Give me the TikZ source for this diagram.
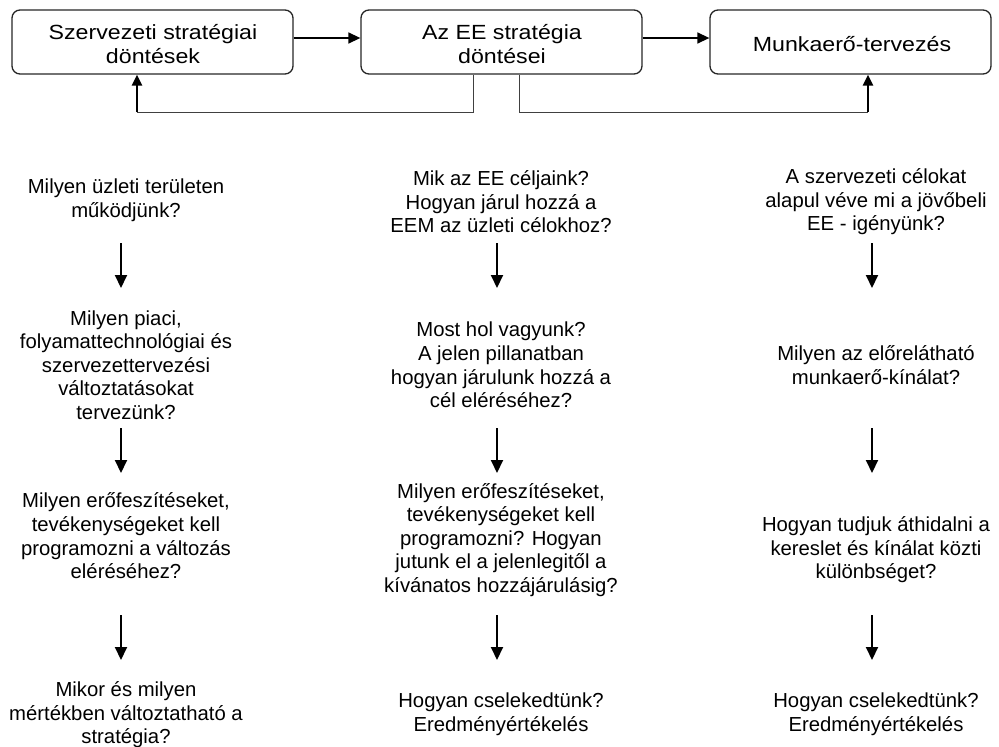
\documentclass[tikz,border=0pt]{standalone}
\usepackage{fontspec}
\setmainfont{Liberation Sans}
\newfontfamily\boxfont[FakeStretch=1.13]{Liberation Sans}
\usetikzlibrary{arrows.meta}
\begin{document}
\begin{tikzpicture}[x=1pt,y=-1pt,
  decision/.style={draw=black!85, line width=1.3pt, rounded corners=8pt,
    minimum width=281pt, minimum height=64pt, inner sep=0pt, align=center,
    font=\boxfont\fontsize{20.5}{23.5}\selectfont},
  question/.style={align=center, inner sep=0pt, font=\fontsize{20.3}{23.6}\selectfont},
  flow/.style={line width=2pt, -{Triangle[length=13pt,width=12pt]}},
  link/.style={line width=1.5pt, -{Triangle[length=12pt,width=11pt]}},
  feedback/.style={line width=1pt, draw=black!75},
  feedup/.style={line width=2.4pt, -{Triangle[length=11pt,width=10pt]}}]

\useasboundingbox (0,0) rectangle (999,747);

% decision boxes
\node[decision] (org)  at (152.5,42) {};
\node[decision] (hr)   at (501.5,42) {};
\node[decision] (plan) at (850.5,42) {};
\node[font=\boxfont\fontsize{20.5}{23.5}\selectfont, align=center, inner sep=0pt]
  (orgtxt) at (153,44) {Szervezeti stratégiai\\döntések};
\node[font=\boxfont\fontsize{20.5}{23.5}\selectfont, align=center, inner sep=0pt]
  (hrtxt) at (502,44) {Az EE stratégia\\döntései};
\node[font=\boxfont\fontsize{20.5}{23.5}\selectfont, align=center, inner sep=0pt]
  (plantxt) at (852,44) {Munkaerő-tervezés};

\draw[link] ([yshift=4pt]org.east) -- ([yshift=4pt]hr.west);
\draw[link] ([yshift=4pt]hr.east) -- ([yshift=4pt]plan.west);

% feedback from the HR strategy back to the other two boxes
\coordinate (fbL) at (137,112);
\coordinate (fbR) at (868,112);
\draw[feedback] (hr.south -| 473,0) |- (fbL);
\draw[feedback] (hr.south -| 519,0) |- (fbR);
\draw[feedup] (fbL) -- (org.south -| fbL);
\draw[feedup] (fbR) -- (plan.south -| fbR);

% column 1: organisational strategy
\node[question] (a1) at (126,200) {Milyen üzleti területen\\működjünk?};
\node[question] (a2) at (126,365) {Milyen piaci,\\folyamattechnológiai és\\szervezettervezési\\változtatásokat\\tervezünk?};
\node[question] (a3) at (126,536) {Milyen erőfeszítéseket,\\tevékenységeket kell\\programozni a változás\\eléréséhez?};
\node[question] (a4) at (126,715) {Mikor és milyen\\mértékben változtatható a\\stratégia?};

% column 2: HR strategy
\node[question] (b1) at (501,202) {Mik az EE céljaink?\\Hogyan járul hozzá a\\EEM az üzleti célokhoz?};
\node[question] (b2) at (501,365) {Most hol vagyunk?\\A jelen pillanatban\\hogyan járulunk hozzá a\\cél eléréséhez?};
\node[question] (b3) at (501,540) {Milyen erőfeszítéseket,\\tevékenységeket kell\\programozni? Hogyan\\jutunk el a jelenlegitől a\\kívánatos hozzájárulásig?};
\node[question] (b4) at (501,714) {Hogyan cselekedtünk?\\Eredményértékelés};

% column 3: workforce planning
\node[question] (c1) at (876,202) {A szervezeti célokat\\alapul véve mi a jövőbeli\\EE - igényünk?};
\node[question] (c2) at (876,365) {Milyen az előrelátható\\munkaerő-kínálat?};
\node[question] (c3) at (876,550) {Hogyan tudjuk áthidalni a\\kereslet és kínálat közti\\különbséget?};
\node[question] (c4) at (876,714) {Hogyan cselekedtünk?\\Eredményértékelés};

% step arrows between the questions
\foreach \col/\x in {a/121,b/497,c/872}{
  \coordinate (\col12s) at (\x,243); \coordinate (\col12e) at (\x,288);
  \coordinate (\col23s) at (\x,428); \coordinate (\col23e) at (\x,473);
  \coordinate (\col34s) at (\x,615); \coordinate (\col34e) at (\x,660);
  \draw[flow] (\col12s) -- (\col12e);
  \draw[flow] (\col23s) -- (\col23e);
  \draw[flow] (\col34s) -- (\col34e);
}
\end{tikzpicture}
\end{document}
